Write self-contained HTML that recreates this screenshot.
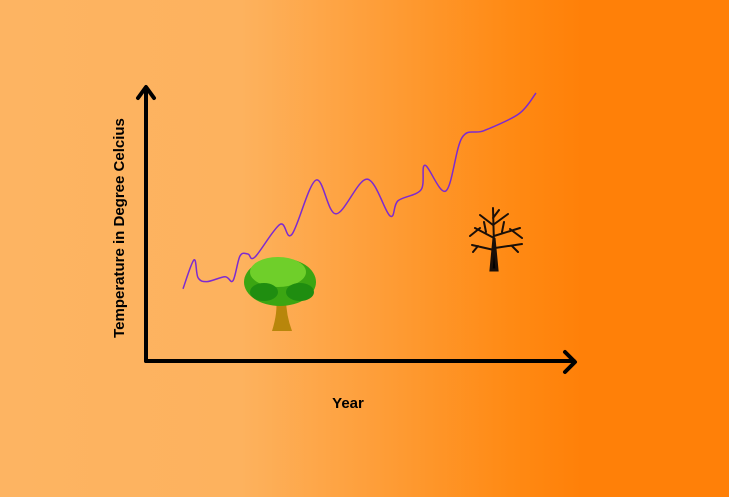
<!DOCTYPE html>
<html><head><meta charset="utf-8"><style>
html,body{margin:0;padding:0;}
body{width:729px;height:497px;overflow:hidden;background:linear-gradient(90deg,#fdb462 0%,#fdb25e 33%,#ff8a14 70%,#ff8008 80%,#ff8008 100%);font-family:"Liberation Sans",sans-serif;}
</style></head><body>
<svg width="729" height="497" style="position:absolute;left:0;top:0">
<g id="axes" stroke="#000" stroke-width="4" fill="none" stroke-linecap="round" stroke-linejoin="round">
<path d="M146,361 V88 M138,98 L146,87 L154,98"/>
<path d="M146,361 H574 M565,352 L575,362 L565,372"/>
</g>
<text x="348" y="408" text-anchor="middle" font-size="15" font-weight="bold">Year</text>
<text transform="translate(124,228) rotate(-90)" text-anchor="middle" font-size="15" font-weight="bold">Temperature in Degree Celcius</text>
<g>
<path d="M272,331 Q278,312 276,298 L286,298 Q286,315 292,331 Z" fill="#b8860b"/>
<path d="M279,300 L262,284 M283,300 L300,282 M281,298 L281,276" stroke="#a0761a" stroke-width="3" fill="none"/>
<ellipse cx="280" cy="282" rx="36" ry="24" fill="#3ba512"/>
<ellipse cx="278" cy="272" rx="28" ry="15" fill="#6fcf2a"/>
<ellipse cx="264" cy="292" rx="14" ry="9" fill="#1f8d10"/>
<ellipse cx="300" cy="292" rx="14" ry="9" fill="#1f8d10"/>
</g>
<g stroke="#1a0f08" fill="none" stroke-linecap="round">
<path d="M491,270 L494,238 L497,270 Z" fill="#000" stroke-width="3"/>
<path d="M494,245 L493,208 M494,238 L475,228 M494,236 L520,228 M493,225 L480,215 M493,225 L508,214 M494,250 L472,245 M495,248 L522,244 M480,228 L470,236 M510,229 L522,238 M486,232 L484,222 M502,232 L504,222 M493,218 L499,210 M478,246 L473,252 M512,246 L518,252" stroke-width="2"/>
</g>
<path id="line" fill="none" stroke="#7d2ad0" stroke-width="1.5"/>
</svg>
<script>
const years = [0, 11, 15, 24, 42, 50, 57, 65, 72, 97, 109, 133, 153, 184, 207, 215, 238, 242, 263, 279, 301, 336, 353];
const temps = [7.0, 29.0, 15.5, 12.5, 16.2, 13.2, 32.0, 33.5, 31.2, 56.0, 48.5, 89.7, 64.0, 90.5, 62.5, 74.0, 82.3, 101.0, 81.5, 122.0, 127.3, 140.2, 156.0];
const xDomain = [0, 353], xRange = [183, 536];
const yDomain = [0, 156], yRange = [298, 93];
function sx(v){return xRange[0]+(v-xDomain[0])/(xDomain[1]-xDomain[0])*(xRange[1]-xRange[0]);}
function sy(v){return yRange[0]+(v-yDomain[0])/(yDomain[1]-yDomain[0])*(yRange[1]-yRange[0]);}
const pts = years.map((y,i)=>[sx(y),sy(temps[i])]);
let d = 'M'+pts[0][0]+','+pts[0][1];
for(let i=0;i<pts.length-1;i++){
  const p0=pts[Math.max(0,i-1)],p1=pts[i],p2=pts[i+1],p3=pts[Math.min(pts.length-1,i+2)];
  const c1=[p1[0]+(p2[0]-p0[0])/6,p1[1]+(p2[1]-p0[1])/6];
  const c2=[p2[0]-(p3[0]-p1[0])/6,p2[1]-(p3[1]-p1[1])/6];
  d+=' C'+c1[0]+','+c1[1]+' '+c2[0]+','+c2[1]+' '+p2[0]+','+p2[1];
}
document.getElementById('line').setAttribute('d',d);
</script>
</body></html>
